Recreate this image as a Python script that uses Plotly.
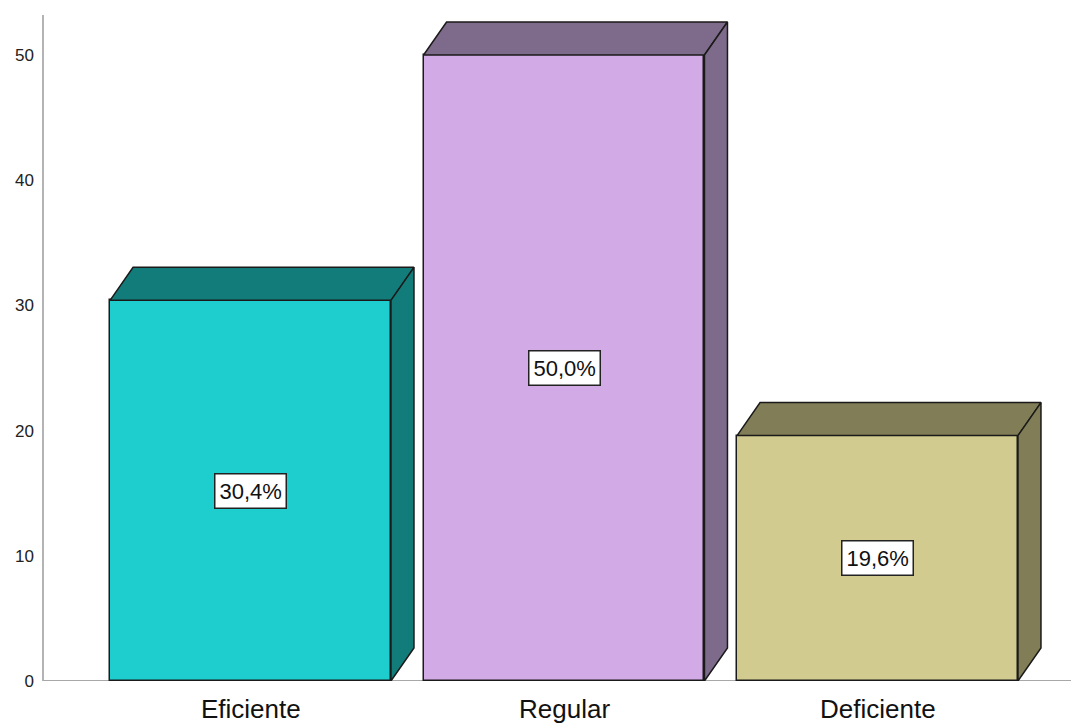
import plotly.graph_objects as go

categories = ["Eficiente", "Regular", "Deficiente"]
values = [30.4, 50.0, 19.6]
labels = ["30,4%", "50,0%", "19,6%"]
front_colors = ["#1ecdcd", "#d2aae6", "#d1cb8f"]
dark_colors = ["#127c7a", "#7e6a8a", "#807d57"]
y_ticks = [0, 10, 20, 30, 40, 50]

BW = 0.896      # bar width (category units)
DX = 0.0734     # depth offset x
DY = 2.636      # depth offset y
EDGE = "#1a1a1a"
FONT = "Liberation Sans, Arial, sans-serif"

fig = go.Figure()

xs = list(range(len(categories)))
fig.add_trace(go.Bar(
    x=xs, y=values, width=BW,
    marker=dict(color=front_colors, line=dict(color=EDGE, width=1.5)),
    hoverinfo="skip", showlegend=False,
))

for i, v in enumerate(values):
    l = i - BW / 2
    r = i + BW / 2
    # top face
    fig.add_trace(go.Scatter(
        x=[l, l + DX, r + DX, r, l], y=[v, v + DY, v + DY, v, v],
        fill="toself", fillcolor=dark_colors[i], mode="lines",
        line=dict(color=EDGE, width=1.5), hoverinfo="skip", showlegend=False,
    ))
    # side face
    fig.add_trace(go.Scatter(
        x=[r, r + DX, r + DX, r, r], y=[v, v + DY, DY, 0, v],
        fill="toself", fillcolor=dark_colors[i], mode="lines",
        line=dict(color=EDGE, width=1.5), hoverinfo="skip", showlegend=False,
    ))

annotations = []
for i, (v, t) in enumerate(zip(values, labels)):
    annotations.append(dict(
        x=i, y=v / 2, xref="x", yref="y", text=t, showarrow=False,
        font=dict(family=FONT, size=22, color="#111"),
        bgcolor="white", bordercolor="#222", borderwidth=1.5, borderpad=4,
    ))
    annotations.append(dict(
        x=i, y=0, xref="x", yref="y", text=categories[i], showarrow=False,
        yanchor="top", yshift=-11,
        font=dict(family=FONT, size=26, color="#111"),
    ))

fig.update_layout(
    width=1071, height=724,
    margin=dict(l=43, r=0, t=0, b=43),
    paper_bgcolor="white", plot_bgcolor="white",
    bargap=0,
    xaxis=dict(range=[-0.6619, 2.6172], showticklabels=False, showgrid=False,
               zeroline=False, showline=False, ticks=""),
    yaxis=dict(range=[0, 54.39], tickvals=y_ticks, ticktext=[str(t) for t in y_ticks],
               showgrid=False, zeroline=False, showline=False, ticks="",
               tickfont=dict(family=FONT, size=17, color="#222"),
               ticklabelstandoff=8),
    shapes=[
        dict(type="line", xref="paper", yref="y", x0=0, x1=0, y0=0, y1=53.2,
             line=dict(color="#b4b4b4", width=2), layer="below"),
        dict(type="line", xref="paper", yref="y", x0=0, x1=1, y0=0, y1=0,
             line=dict(color="#a8a8a8", width=2), layer="below"),
    ],
    annotations=annotations,
)

fig.write_html("out.html")
